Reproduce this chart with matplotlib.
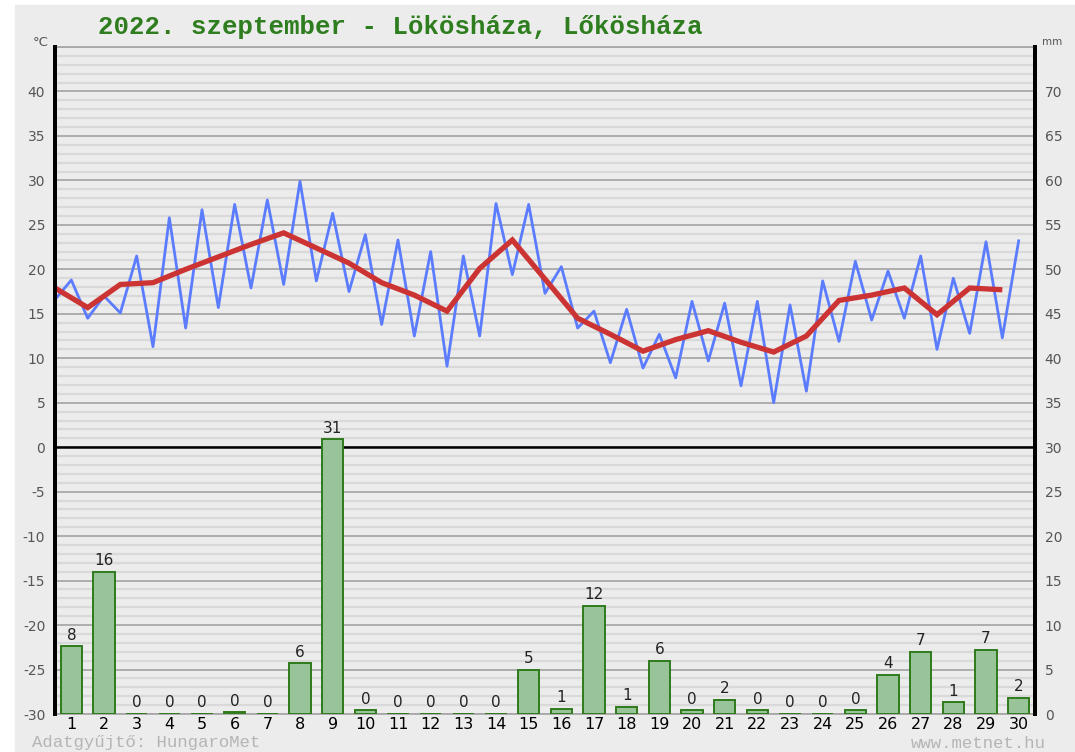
import numpy as np
import matplotlib
matplotlib.use("Agg")
import matplotlib.pyplot as plt
from matplotlib.patches import Rectangle

plt.rcParams["axes.unicode_minus"] = False

# daily values, Lőkösháza, 2022 September
days = np.arange(1, 31)
tmin = [16.6, 14.5, 15.1, 11.3, 13.4, 15.7, 17.9, 18.3, 18.7, 17.5,
        13.8, 12.5, 9.1, 12.5, 19.4, 17.3, 13.4, 9.5, 8.9, 7.8,
        9.7, 6.9, 5.0, 6.3, 11.9, 14.3, 14.5, 11.0, 12.8, 12.3]
tmax = [18.8, 17.0, 21.5, 25.8, 26.7, 27.3, 27.8, 29.9, 26.3, 23.9,
        23.3, 22.0, 21.5, 27.4, 27.3, 20.3, 15.3, 15.5, 12.7, 16.4,
        16.2, 16.4, 16.0, 18.7, 20.9, 19.8, 21.5, 19.0, 23.1, 23.2]
tmean = [17.9, 15.7, 18.3, 18.5, 20.0, 21.4, 22.8, 24.1, 22.4, 20.7,
         18.5, 17.1, 15.3, 20.1, 23.3, 18.9, 14.5, 12.7, 10.8, 12.1,
         13.1, 11.8, 10.7, 12.5, 16.5, 17.1, 17.9, 14.9, 17.9, 17.7]
precip = [7.6, 16.0, 0.0, 0.0, 0.0, 0.2, 0.0, 5.7, 30.9, 0.4,
          0.0, 0.0, 0.0, 0.0, 5.0, 0.6, 12.2, 0.8, 6.0, 0.4,
          1.6, 0.4, 0.0, 0.0, 0.4, 4.4, 7.0, 1.3, 7.2, 1.8]

title = "2022. szeptember - Lökösháza, Lőkösháza"

W, H = 1075, 752
fig = plt.figure(figsize=(W / 100, H / 100), dpi=100, facecolor="white")
fig.patches.append(Rectangle((15 / W, 0), 1 - 15 / W, 1 - 5 / H,
                             transform=fig.transFigure, color="#ececec", zorder=-1))

ax = fig.add_axes([55 / W, 1 - 714 / H, 980 / W, (714 - 47) / H])
ax.set_facecolor("#ececec")
ax.set_xlim(0.5, 30.5)
ax.set_ylim(-30, 45)

# grid: light lines every degree, darker every 5
for v in range(-30, 46):
    if v % 5 == 0:
        ax.axhline(v, color="#a8a8a8", lw=1.3, zorder=1)
    else:
        ax.axhline(v, color="#d9d9d9", lw=1.6, zorder=1)
ax.axhline(0, color="black", lw=1.8, zorder=2)

# temperatures: min in the morning, max at midday
tx, ty = [], []
for d, lo, hi in zip(days, tmin, tmax):
    tx += [d - 0.5, d]
    ty += [lo, hi]
ax.plot(tx, ty, color="#5b7cff", lw=2.0, zorder=3)
ax.plot(days - 0.5, tmean, color="#cc3333", lw=3.8, zorder=4,
        solid_capstyle="butt", solid_joinstyle="miter")

ax.set_yticks(range(-30, 41, 5))
ax.set_xticks(days)
ax.set_xticklabels([str(d) for d in days], fontsize=11.5, color="black")
ax.tick_params(axis="both", length=0)
ax.tick_params(axis="y", labelsize=10, labelcolor="#555555", pad=7)
ax.tick_params(axis="x", pad=2)
for s in ["top", "bottom"]:
    ax.spines[s].set_color("#a8a8a8")
    ax.spines[s].set_linewidth(1.3)
for s in ["left", "right"]:
    ax.spines[s].set_color("black")
    ax.spines[s].set_linewidth(2.8)

# precipitation on the right (mm) axis
ax2 = ax.twinx()
ax2.set_ylim(0, 75)
ax2.bar(days, precip, width=0.65, color="#99c499", edgecolor="#2f7a1c",
        linewidth=1.4, zorder=3)
for d, p in zip(days, precip):
    ax2.text(d, p + 0.4, f"{round(p):d}", ha="center", va="bottom",
             fontsize=11, color="#222222")
ax2.set_yticks(range(0, 71, 5))
ax2.tick_params(axis="y", length=0, labelsize=10, labelcolor="#555555", pad=7)
for s in ["top", "bottom"]:
    ax2.spines[s].set_visible(False)
for s in ["left", "right"]:
    ax2.spines[s].set_color("black")
    ax2.spines[s].set_linewidth(2.8)

fig.text(98 / W, 1 - 27 / H, title, family="Liberation Mono", weight="bold",
         fontsize=18.5, color="#2e7d1e", ha="left", va="center")
fig.text(49 / W, 1 - 42 / H, "°C", fontsize=9.5, color="#555555", ha="right", va="center")
fig.text(1042 / W, 1 - 42 / H, "mm", fontsize=7.5, color="#555555", ha="left", va="center",
         family="Liberation Sans Narrow")
fig.text(32 / W, 1 - 743 / H, "Adatgyűjtő: HungaroMet", family="Liberation Mono",
         fontsize=12.5, color="#b5b5b5", ha="left", va="center")
fig.text(1046 / W, 1 - 743 / H, "www.metnet.hu", family="Liberation Mono",
         fontsize=12.5, color="#b5b5b5", ha="right", va="center")

fig.savefig("out.png", dpi=100, facecolor=fig.get_facecolor())
